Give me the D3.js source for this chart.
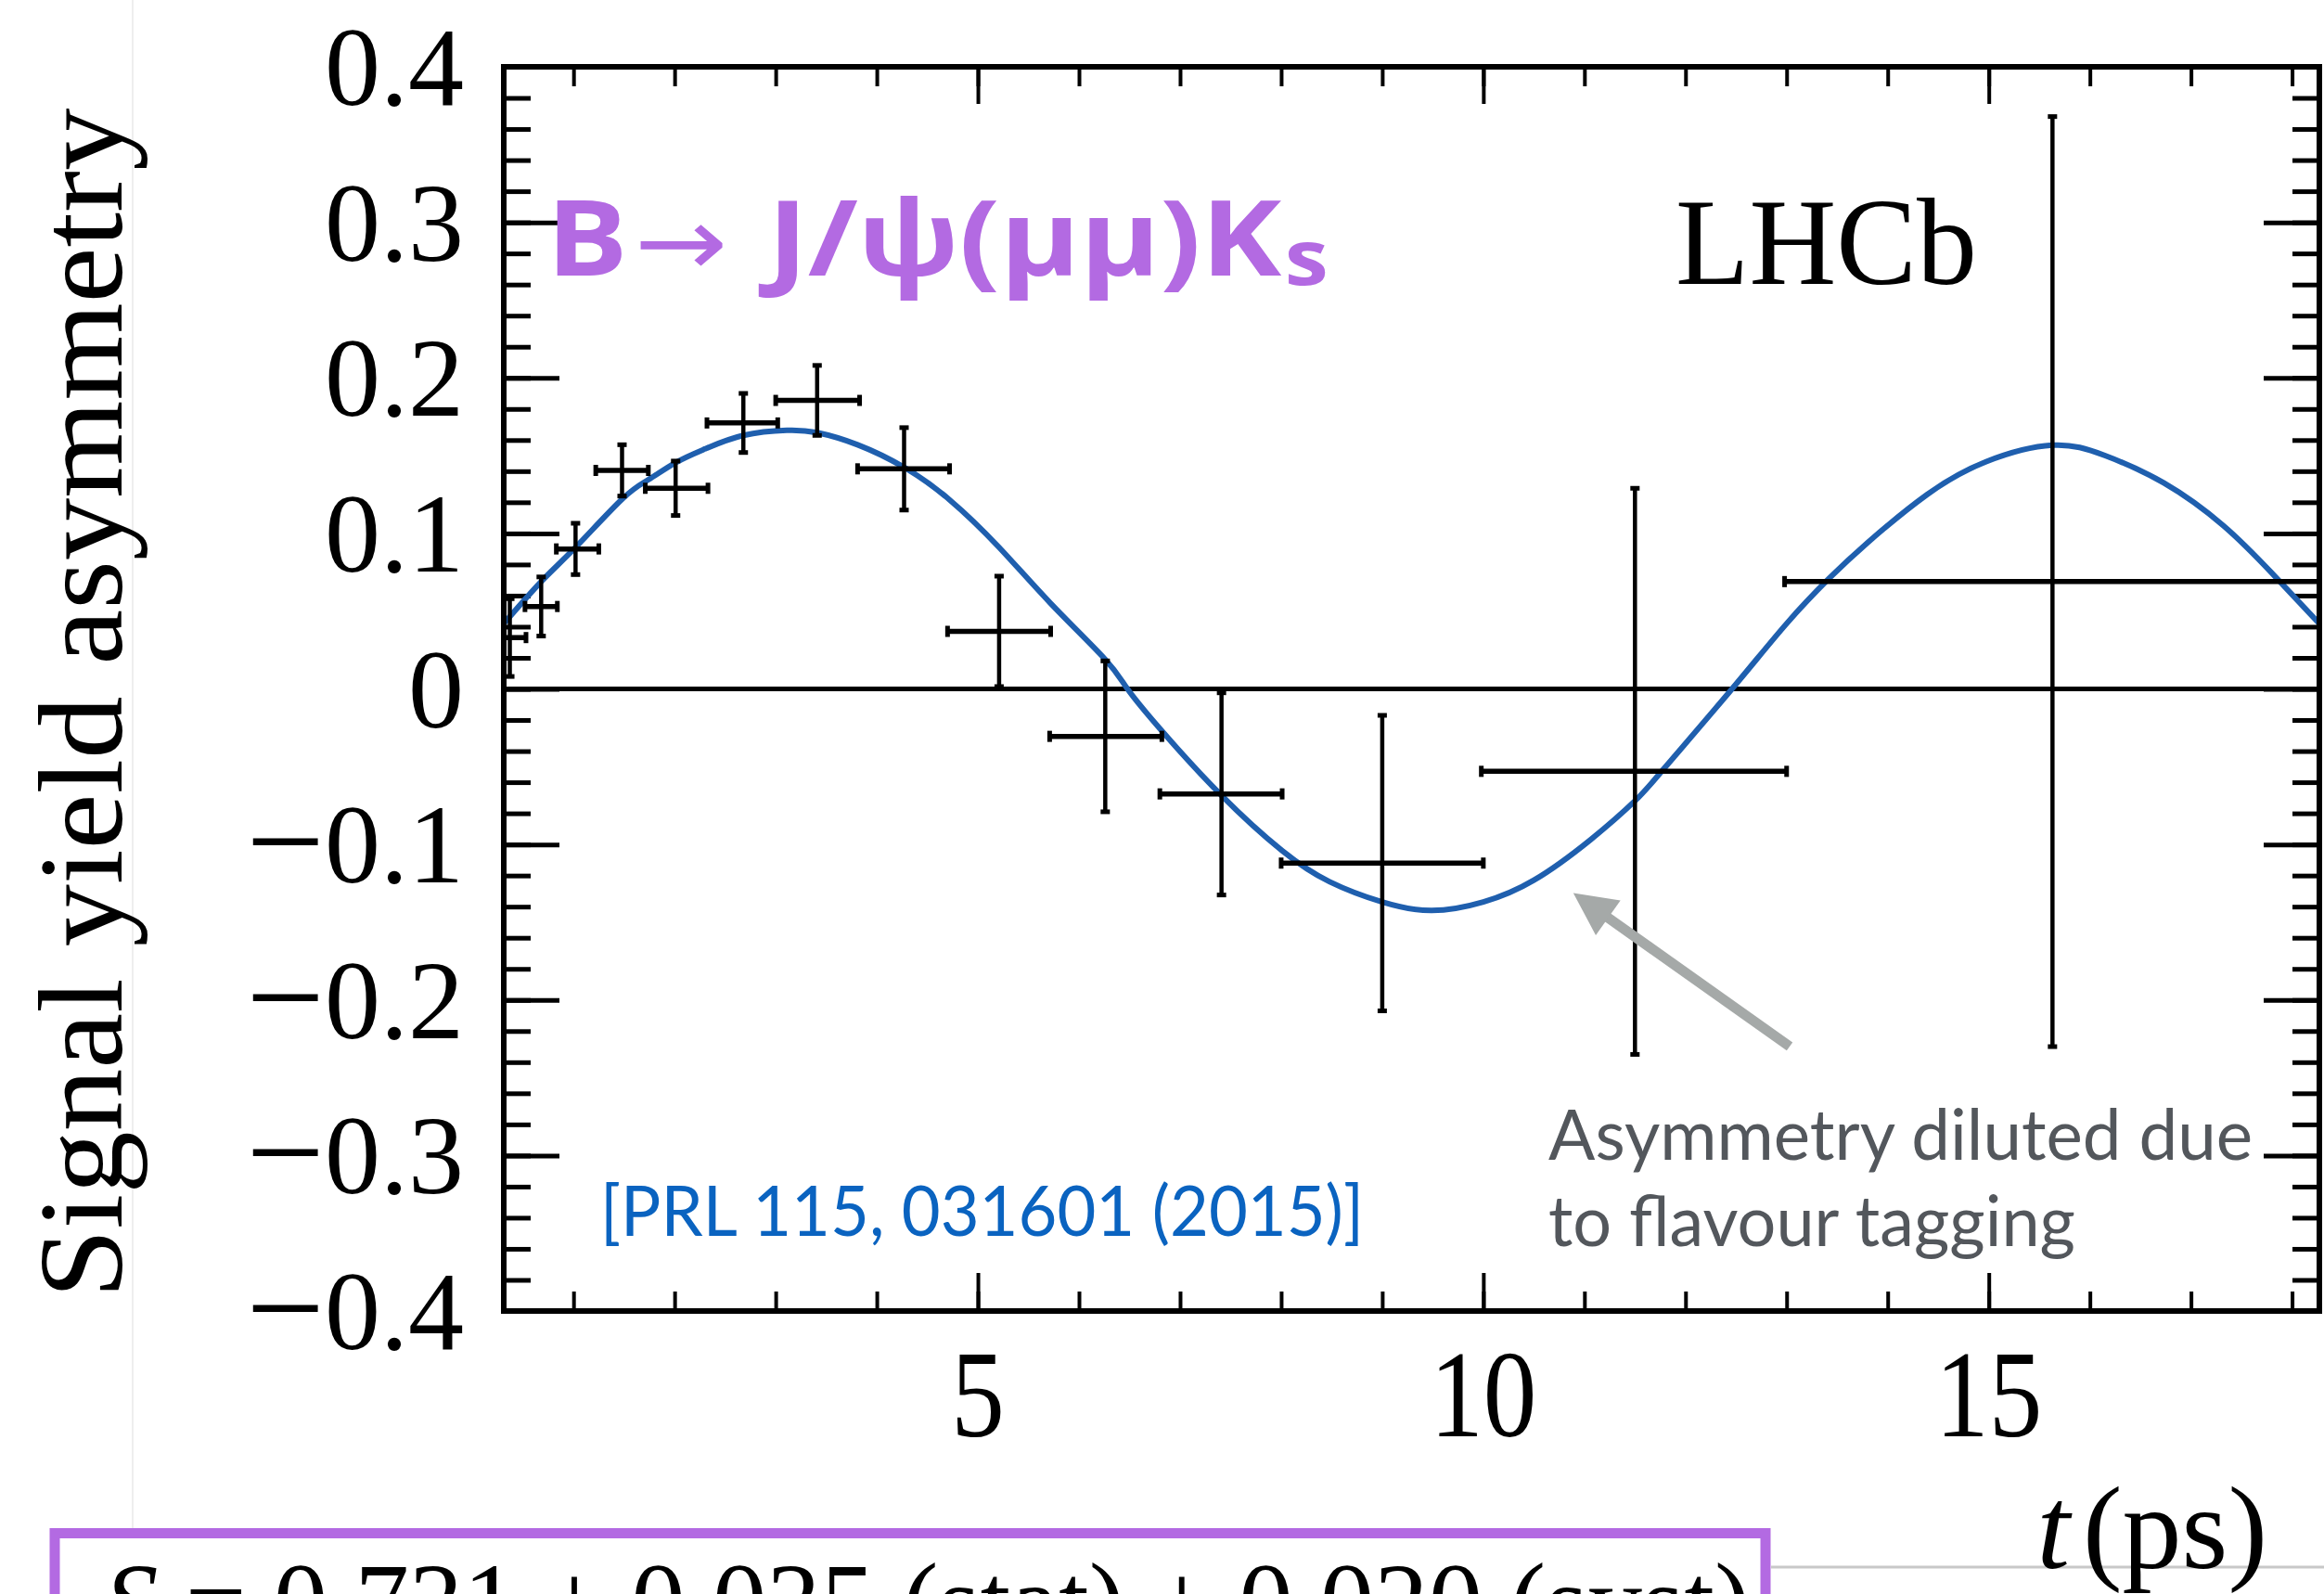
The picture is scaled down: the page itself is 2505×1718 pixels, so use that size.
<!DOCTYPE html>
<html><head><meta charset="utf-8">
<script src="https://cdn.jsdelivr.net/npm/d3@7"></script>
<style>body{margin:0;background:#fff} svg{display:block}</style>
</head><body>
<svg id="c" width="2505" height="1718"></svg>
<script>
// ---- data ----
const yTickValues = [-0.4,-0.3,-0.2,-0.1,0,0.1,0.2,0.3,0.4];
const yTickLabels = ["0.4","0.3","0.2","0.1","0","0.1","0.2","0.3","0.4"];
const yTickNegative = [true,true,true,true,false,false,false,false,false];
const xTickValues = [5,10,15];
const xTickLabels = ["5","10","15"];

const binCentre = [0.37,0.68,1.02,1.48,2.01,2.68,3.41,4.27,5.21,6.26,7.41,9.0,11.5,15.63];
const binLow    = [0.31,0.52,0.83,1.22,1.71,2.32,3.00,3.81,4.70,5.71,6.80,8.00,9.98,12.98];
const binHigh   = [0.53,0.84,1.25,1.74,2.33,3.02,3.83,4.72,5.72,6.82,8.01,10.0,13.0,18.27];
const asymmetry = [0.033,0.053,0.090,0.1405,0.129,0.171,0.1855,0.1415,0.037,-0.0305,-0.0675,-0.112,-0.053,0.069];
const asymError = [0.025,0.019,0.0165,0.0165,0.0175,0.019,0.0225,0.0265,0.0355,0.0485,0.065,0.095,0.182,0.299];

const fitTime = [0.31,0.68,1.02,1.48,1.74,2.01,2.30,2.68,3.11,3.41,3.81,4.27,4.72,5.21,5.72,6.26,6.48,6.82,7.41,8.01,8.48,9.0,9.49,10.0,10.5,11.06,11.5,11.79,12.46,13.0,13.42,13.8,14.39,14.97,15.63,16.15,16.73,17.32,17.8,18.27];
const fitAsym = [0.042,0.069,0.091,0.122,0.1345,0.1455,0.1543,0.163,0.1663,0.1648,0.157,0.1425,0.1216,0.091,0.055,0.019,0.0,-0.027,-0.0685,-0.104,-0.124,-0.137,-0.1425,-0.137,-0.123,-0.097,-0.072,-0.051,0.0,0.042,0.071,0.094,0.125,0.146,0.1567,0.150,0.1325,0.105,0.0745,0.042];

const arrowFrom = [13.03,-0.2299];
const arrowTo   = [10.89,-0.1313];

// ---- drawing ----
const svg = d3.select("#c");
const L=543, R=2500, T=72, B=1413;
const x = d3.scaleLinear().domain([0.31,18.27]).range([L,R]);
const y = d3.scaleLinear().domain([-0.4,0.4]).range([B,T]);
const serif = "'Liberation Serif','Times New Roman',serif";
const sans = "Lato,'Open Sans',sans-serif";

// faint slide edge
svg.append("line").attr("x1",143).attr("x2",143).attr("y1",0).attr("y2",1647)
  .attr("stroke","#eeeeee").attr("stroke-width",2);

svg.append("clipPath").attr("id","pc").append("rect")
  .attr("x",L).attr("y",T).attr("width",R-L).attr("height",B-T);

// ticks
function ticks(axis, tf, size, width){
  const g = svg.append("g").attr("transform",tf).call(axis.tickSize(size).tickFormat(""));
  g.select(".domain").remove();
  g.selectAll(".tick line").attr("stroke","#000").attr("stroke-width",width);
}
const yMinor = y.ticks(40);
ticks(d3.axisLeft(y).tickValues(yMinor), `translate(${L},0)`, -29, 5);
ticks(d3.axisLeft(y).tickValues(yTickValues), `translate(${L},0)`, -60, 5);
ticks(d3.axisRight(y).tickValues(yMinor), `translate(${R},0)`, -29, 5);
ticks(d3.axisRight(y).tickValues(yTickValues), `translate(${R},0)`, -60, 5);
const xMinor = x.ticks(20);
ticks(d3.axisBottom(x).tickValues(xMinor), `translate(0,${B})`, -21, 4);
ticks(d3.axisBottom(x).tickValues(xTickValues), `translate(0,${B})`, -41, 4);
ticks(d3.axisTop(x).tickValues(xMinor), `translate(0,${T})`, -21, 4);
ticks(d3.axisTop(x).tickValues(xTickValues), `translate(0,${T})`, -40, 4);

// zero line
svg.append("line").attr("x1",L).attr("x2",R).attr("y1",y(0)).attr("y2",y(0))
  .attr("stroke","#000").attr("stroke-width",5);

// fit curve
const pts = fitTime.map((t,i)=>[t,fitAsym[i]]);
svg.append("path").attr("clip-path","url(#pc)")
  .attr("d", d3.line().x(d=>x(d[0])).y(d=>y(d[1])).curve(d3.curveNatural)(pts))
  .attr("fill","none").attr("stroke","#1f5fae").attr("stroke-width",6);

// data points with error bars
const eg = svg.append("g").attr("clip-path","url(#pc)").attr("stroke","#000");
binCentre.forEach((t,i)=>{
  const cx=x(t), cy=y(asymmetry[i]);
  const y1=y(asymmetry[i]+asymError[i]), y2=y(asymmetry[i]-asymError[i]);
  const x1=x(binLow[i]), x2=x(binHigh[i]);
  eg.append("line").attr("x1",cx).attr("x2",cx).attr("y1",y1).attr("y2",y2).attr("stroke-width",4.5);
  eg.append("line").attr("x1",x1).attr("x2",x2).attr("y1",cy).attr("y2",cy).attr("stroke-width",5.5);
  [y1,y2].forEach(v=>eg.append("line").attr("x1",cx-5).attr("x2",cx+5).attr("y1",v).attr("y2",v).attr("stroke-width",5));
  [x1,x2].forEach(u=>eg.append("line").attr("x1",u).attr("x2",u).attr("y1",cy-6).attr("y2",cy+6).attr("stroke-width",5));
});

// frame
svg.append("rect").attr("x",L).attr("y",T).attr("width",R-L).attr("height",B-T)
  .attr("fill","none").attr("stroke","#000").attr("stroke-width",6);

// y tick labels
yTickValues.forEach((v,i)=>{
  const t = svg.append("text").attr("x",500).attr("y",y(v)+41)
    .attr("text-anchor","end").attr("font-family",serif).attr("font-size",120).attr("fill","#000");
  if(yTickNegative[i]) t.append("tspan").attr("font-size",150).attr("dy",6).text("−");
  t.append("tspan").attr("dy",yTickNegative[i]?-6:0).text(yTickLabels[i]);
});
// x tick labels
xTickValues.forEach((v,i)=>{
  svg.append("g").attr("transform",`translate(${x(v)},1548) scale(0.86,1)`)
    .append("text").attr("text-anchor","middle").attr("font-family",serif).attr("font-size",134)
    .attr("fill","#000").text(xTickLabels[i]);
});

// axis titles
svg.append("text").attr("transform","translate(131,758) rotate(-90)")
  .attr("text-anchor","middle").attr("font-family",serif).attr("font-size",130)
  .attr("textLength",1283).attr("lengthAdjust","spacingAndGlyphs").text("Signal yield asymmetry");

// slide line bottom right
svg.append("line").attr("x1",1909).attr("x2",2505).attr("y1",1689).attr("y2",1689)
  .attr("stroke","#c8c8c8").attr("stroke-width",3);

const tt = svg.append("text").attr("x",2444).attr("y",1690).attr("text-anchor","end")
  .attr("font-family",serif).attr("font-size",128).attr("fill","#000");
tt.append("tspan").attr("font-style","italic").text("t");
tt.append("tspan").attr("dx",14).text("(ps)");

// LHCb
svg.append("text").attr("x",1806).attr("y",306).attr("font-family",serif).attr("font-size",134)
  .attr("textLength",325).attr("lengthAdjust","spacingAndGlyphs").text("LHCb");

// title (horizontally widened to match the reference face)
const ti = svg.append("g").attr("transform","translate(596,297) scale(1.155,1)")
  .append("text").attr("x",-6).attr("y",0).attr("font-family","'Open Sans',sans-serif")
  .attr("font-weight",700).attr("font-size",113).attr("fill","#b36ae2");
ti.append("tspan").text("B");
ti.append("tspan").attr("font-family","'DejaVu Sans',sans-serif").attr("font-weight",400).attr("font-size",104).attr("dx",6).text("→");
ti.append("tspan").attr("dx",8).text(" J/ψ(μμ)K");
ti.append("tspan").attr("font-size",82).attr("dy",10).attr("dx",3).text("s");

// reference
svg.append("text").attr("x",647).attr("y",1332).attr("font-family",sans).attr("font-size",75)
  .attr("fill","#0a63c0").attr("textLength",823).attr("lengthAdjust","spacingAndGlyphs")
  .text("[PRL 115, 031601 (2015)]");

// annotation
svg.append("text").attr("x",1669).attr("y",1250).attr("font-family",sans).attr("font-size",75)
  .attr("fill","#53575c").attr("textLength",759).attr("lengthAdjust","spacingAndGlyphs").text("Asymmetry diluted due");
svg.append("text").attr("x",1669).attr("y",1343).attr("font-family",sans).attr("font-size",75)
  .attr("fill","#53575c").attr("textLength",568).attr("lengthAdjust","spacingAndGlyphs").text("to flavour tagging");

// arrow
const ax1=x(arrowFrom[0]), ay1=y(arrowFrom[1]), ax2=x(arrowTo[0]), ay2=y(arrowTo[1]);
const ang=Math.atan2(ay2-ay1, ax2-ax1);
const hl=46, hw=23;
const bx=ax2-hl*Math.cos(ang), by=ay2-hl*Math.sin(ang);
svg.append("line").attr("x1",ax1).attr("y1",ay1).attr("x2",bx+4*Math.cos(ang)).attr("y2",by+4*Math.sin(ang))
  .attr("stroke","#a5a9a8").attr("stroke-width",11);
svg.append("path").attr("d",`M${ax2},${ay2}L${bx+hw*Math.sin(ang)},${by-hw*Math.cos(ang)}L${bx-hw*Math.sin(ang)},${by+hw*Math.cos(ang)}Z`)
  .attr("fill","#a5a9a8");

// result box (cut by the bottom edge, as in the reference)
svg.append("rect").attr("x",59).attr("y",1652.5).attr("width",1844).attr("height",200)
  .attr("fill","#fff").attr("stroke","#b36ae2").attr("stroke-width",11);
const st = svg.append("text").attr("x",112).attr("y",1768).attr("font-family",serif).attr("font-size",120)
  .attr("textLength",1775).attr("lengthAdjust","spacingAndGlyphs");
st.append("tspan").attr("font-style","italic").text("S");
st.append("tspan").text(" = 0.731 ± 0.035 (stat) ± 0.020 (syst)");
</script>
</body></html>
